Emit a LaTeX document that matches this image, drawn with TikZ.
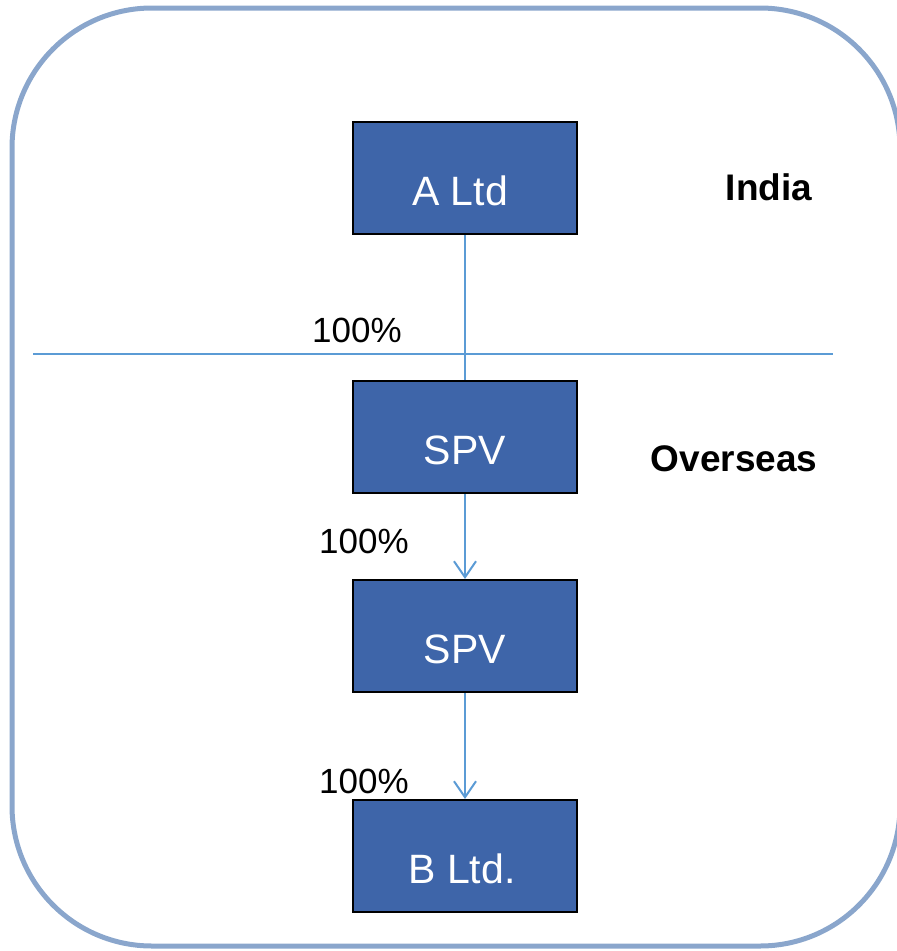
\documentclass[tikz,border=0pt]{standalone}
\usepackage{fontspec}
\setmainfont{Liberation Sans}
\usetikzlibrary{arrows.meta}
\definecolor{frameblue}{RGB}{138,166,204}
\definecolor{boxblue}{RGB}{62,101,169}
\definecolor{linkblue}{RGB}{91,155,213}
\tikzset{
  frame/.style={draw=frameblue, line width=5pt, rounded corners=140pt},
  entity/.style={rectangle, draw=black, line width=2pt, fill=boxblue,
    minimum width=224pt, minimum height=112pt, inner sep=0pt},
  boxtext/.style={anchor=base, text=white, font=\fontsize{41}{48}\selectfont, inner sep=0pt},
  pct/.style={anchor=base, font=\fontsize{35}{42}\selectfont, inner sep=0pt},
  region/.style={anchor=base, font=\fontsize{37}{44}\bfseries\selectfont, inner sep=0pt},
  link/.style={draw=linkblue, line width=2pt},
  linkarrow/.style={link, -{Straight Barb[length=16pt, width=22pt, line width=2pt]}}
}
\begin{document}
\begin{tikzpicture}[x=1pt, y=-1pt]
\useasboundingbox (0,0) rectangle (897,951);
\draw[frame] (12,8) rectangle (900,946);

\node[entity] (a)  at (465,178) {};
\node[entity] (s1) at (465,437) {};
\node[entity] (s2) at (465,636) {};
\node[entity] (b)  at (465,856) {};

\node[boxtext] (ta)  at ([xshift=-5pt, yshift=-84pt]a.north) {A Ltd};
\node[boxtext] (ts1) at ([yshift=-84pt]s1.north) {SPV};
\node[boxtext] (ts2) at ([yshift=-84pt]s2.north) {SPV};
\node[boxtext] (tb)  at ([xshift=-3pt, yshift=-84pt]b.north) {B Ltd.};

\coordinate (hl) at (33,354);
\coordinate (hr) at (833,354);
\draw[link] (hl) -- (hr);

\draw[link] (a.south) -- (s1.north);
\draw[linkarrow] (s1.south) -- (s2.north);
\draw[linkarrow] (s2.south) -- (b.north);

\node[pct] (p1) at (357,342) {100\%};
\node[pct] (p2) at (364,553) {100\%};
\node[pct] (p3) at (364,793) {100\%};

\node[region] (india) at (769,200) {India};
\node[region] (overseas) at (734,471) {Overseas};
\end{tikzpicture}
\end{document}
